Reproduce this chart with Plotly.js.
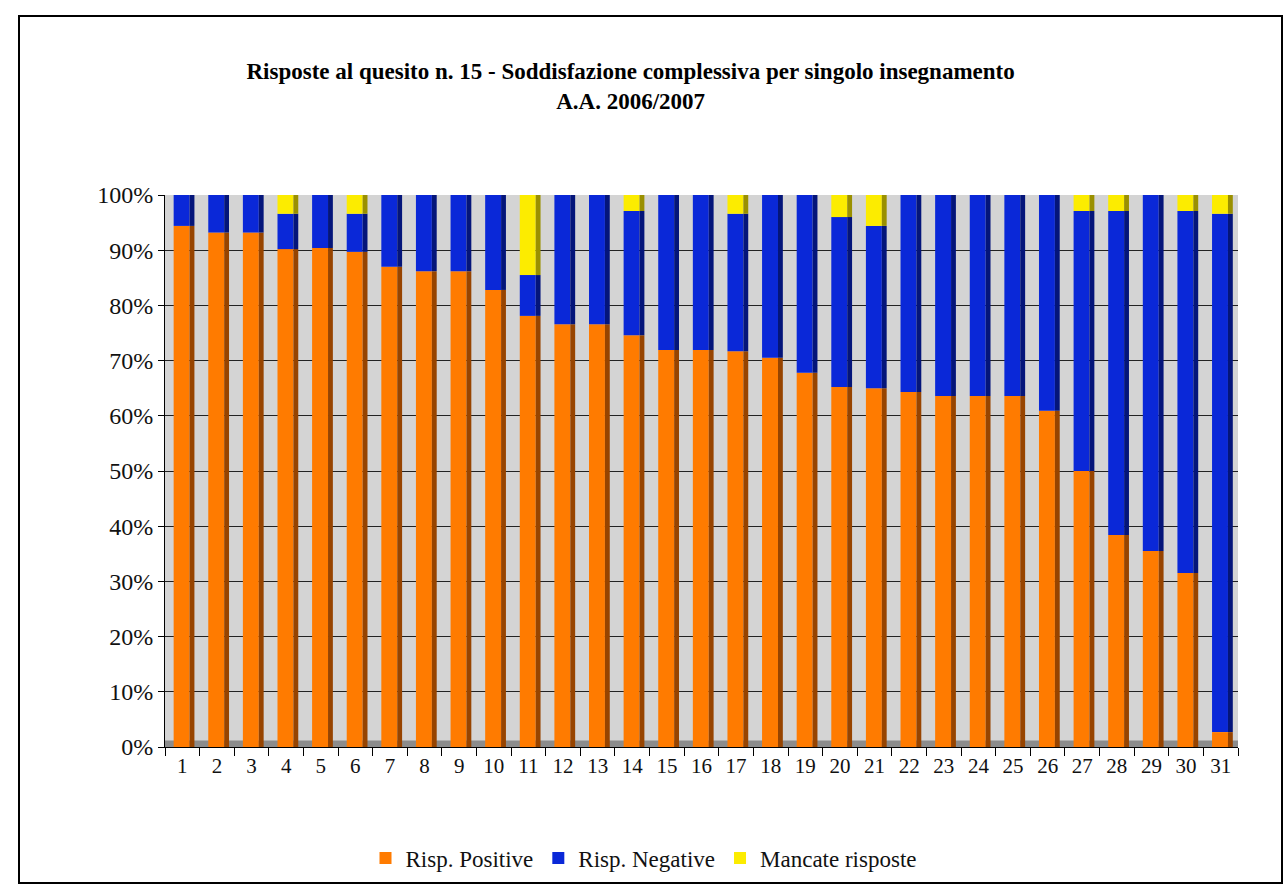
<!DOCTYPE html>
<html>
<head>
<meta charset="utf-8">
<script src="https://cdn.plot.ly/plotly-3.0.1.min.js"></script>
<style>
  html, body { margin: 0; padding: 0; background: #ffffff; }
  #wrap { position: relative; width: 1287px; height: 893px; }
  #chart { position: absolute; left: 0; top: 0; width: 1287px; height: 893px; }
  #frame { position: absolute; left: 18px; top: 15px; width: 1261px; height: 865px;
           border: 2px solid #000; pointer-events: none; }
</style>
</head>
<body>
<div id="wrap">
  <div id="chart"></div>
  <div id="frame"></div>
</div>
<script>
// Categories (insegnamenti)
const categories = ['1','2','3','4','5','6','7','8','9','10','11','12','13','14','15','16',
  '17','18','19','20','21','22','23','24','25','26','27','28','29','30','31'];

// Percentages
const rispPositive = [94.4, 93.2, 93.2, 90.2, 90.4, 89.7, 87.0, 86.2, 86.2, 82.8,
  78.1, 76.6, 76.6, 74.6, 71.9, 71.9, 71.7, 70.5, 67.8, 65.2,
  65.0, 64.3, 63.6, 63.6, 63.6, 60.9, 50.0, 38.4, 35.5, 31.5, 2.7];

const rispNegative = [5.6, 6.8, 6.8, 6.4, 9.6, 6.9, 13.0, 13.8, 13.8, 17.2,
  7.4, 23.4, 23.4, 22.5, 28.1, 28.1, 24.9, 29.5, 32.2, 30.8,
  29.4, 35.7, 36.4, 36.4, 36.4, 39.1, 47.1, 58.7, 64.5, 65.6, 93.9];

const mancateRisposte = [0, 0, 0, 3.4, 0, 3.4, 0, 0, 0, 0,
  14.5, 0, 0, 2.9, 0, 0, 3.4, 0, 0, 4.0,
  5.6, 0, 0, 0, 0, 0, 2.9, 2.9, 0, 2.9, 3.4];

const yTicks = [0, 10, 20, 30, 40, 50, 60, 70, 80, 90, 100];

const serif = 'Liberation Serif, Times New Roman, serif';

// stacking bases derived from the data
const basePos = rispPositive.map(() => 0);
const baseNeg = rispPositive.slice();
const baseMiss = rispPositive.map((v, i) => v + rispNegative[i]);

const series = [
  { name: 'Risp. Positive', y: rispPositive, base: basePos, face: '#ff7b00', side: '#974400' },
  { name: 'Risp. Negative', y: rispNegative, base: baseNeg, face: '#0a28d8', side: '#04157a' },
  { name: 'Mancate risposte', y: mancateRisposte, base: baseMiss, face: '#fcec00', side: '#9a9000' }
];

const traces = [];
series.forEach(s => {
  traces.push({ type: 'bar', name: s.name, x: categories, y: s.y, base: s.base,
    width: 0.46, offset: -0.25, marker: { color: s.face, line: { width: 0 } } });
});
series.forEach(s => {
  traces.push({ type: 'bar', name: s.name + ' (lato)', x: categories, y: s.y, base: s.base,
    width: 0.14, offset: 0.21, showlegend: false,
    marker: { color: s.side, line: { width: 0 } } });
});

const layout = {
  width: 1287, height: 893,
  paper_bgcolor: '#ffffff',
  plot_bgcolor: '#d4d4d4',
  barmode: 'overlay',
  margin: { l: 165, r: 49, t: 195, b: 146 },
  showlegend: true,
  title: {
    text: 'Risposte al quesito n. 15 - Soddisfazione complessiva per singolo insegnamento<br>A.A. 2006/2007',
    font: { family: serif, size: 23, color: '#000', weight: 'bold' },
    xref: 'container', x: 0.49, xanchor: 'center',
    yref: 'container', y: 0.911, yanchor: 'middle'
  },
  xaxis: {
    type: 'category',
    tickfont: { family: serif, size: 21, color: '#111' },
    ticks: 'outside', ticklen: 8, tickcolor: '#000', tickson: 'boundaries',
    showline: true, linecolor: '#000', linewidth: 1,
    showgrid: false, zeroline: false,
    fixedrange: true
  },
  yaxis: {
    range: [0, 100],
    tickvals: yTicks,
    ticktext: yTicks.map(v => v + '%'),
    tickfont: { family: serif, size: 24, color: '#111' },
    ticks: 'outside', ticklen: 6, tickcolor: '#000',
    showline: true, linecolor: '#000', linewidth: 1,
    showgrid: true, gridcolor: '#222', gridwidth: 1,
    zeroline: false
  },
  legend: {
    orientation: 'h',
    x: 0.5, xanchor: 'center', xref: 'container',
    y: 0.039, yanchor: 'middle', yref: 'container',
    font: { family: serif, size: 23, color: '#111' },
    itemwidth: 30,
    traceorder: 'normal'
  },
  shapes: [
    { type: 'rect', xref: 'paper', yref: 'paper', x0: 0, x1: 1, y0: 0, y1: 0.012,
      fillcolor: '#8c8c8c', line: { width: 0 }, layer: 'below' }
  ]
};

Plotly.newPlot('chart', traces, layout, { displayModeBar: false, staticPlot: true });
</script>
</body>
</html>
